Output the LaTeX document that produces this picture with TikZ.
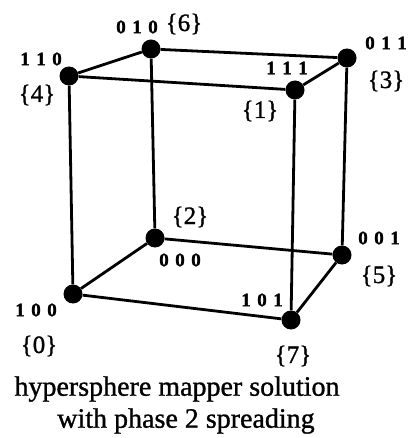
\documentclass[tikz,border=0pt]{standalone}
\usepackage{fontspec}
\setmainfont{Liberation Serif}
\newfontfamily\heavyserif[FakeBold=1.1]{Liberation Serif}
\newfontfamily\heavybits[FakeBold=1.5]{Liberation Serif Bold}
\tikzset{
  vertexdot/.style={circle,fill=black,draw=none,inner sep=0pt,minimum size=19pt},
  edgeline/.style={draw=black,line width=2.8pt},
  bits/.style={font=\fontsize{19}{19}\heavybits,inner sep=0pt},
  idx/.style={font=\fontsize{25}{25}\heavyserif,inner sep=0pt},
  captext/.style={font=\fontsize{28}{28}\heavyserif,inner sep=0pt}
}
\newcommand{\spd}[3]{#1\hspace{6.5pt}#2\hspace{6.5pt}#3}
\begin{document}
\begin{tikzpicture}[x=1pt,y=-1pt]
\useasboundingbox (0,0) rectangle (411,438);
\node[vertexdot] (v110) at (69,76) {};
\node[vertexdot] (v010) at (151,49) {};
\node[vertexdot] (v011) at (347,58) {};
\node[vertexdot] (v111) at (295,90) {};
\node[vertexdot] (v000) at (155,238) {};
\node[vertexdot] (v001) at (342,255) {};
\node[vertexdot] (v100) at (73,294) {};
\node[vertexdot] (v101) at (291,320) {};
\draw[edgeline] (v110) -- (v010);
\draw[edgeline] (v010) -- (v011);
\draw[edgeline] (v110) -- (v111);
\draw[edgeline] (v111) -- (v011);
\draw[edgeline] (v110) -- (v100);
\draw[edgeline] (v010) -- (v000);
\draw[edgeline] (v111) -- (v101);
\draw[edgeline] (v011) -- (v001);
\draw[edgeline] (v100) -- (v000);
\draw[edgeline] (v000) -- (v001);
\draw[edgeline] (v100) -- (v101);
\draw[edgeline] (v101) -- (v001);
\node[bits] (t010) at (137,27) {\spd010};
\node[idx] (i6) at (184,24) {\{6\}};
\node[bits] (t110) at (41,59) {\spd110};
\node[idx] (i4) at (37,95) {\{4\}};
\node[bits] (t111) at (287,68) {\spd111};
\node[idx] (i1) at (260,111) {\{1\}};
\node[bits] (t011) at (386,43) {\spd011};
\node[idx] (i3) at (386,81) {\{3\}};
\node[idx] (i2) at (190,217) {\{2\}};
\node[bits] (t000) at (180,260) {\spd000};
\node[bits] (t001) at (379,238) {\spd001};
\node[idx] (i5) at (379,276) {\{5\}};
\node[bits] (t100) at (36,310) {\spd100};
\node[idx] (i0) at (39,346) {\{0\}};
\node[bits] (t101) at (262,300) {\spd101};
\node[idx] (i7) at (293,356) {\{7\}};
\node[captext] (c1) at (177,389) {hypersphere mapper solution};
\node[captext] (c2) at (186,421) {with phase 2 spreading};
\end{tikzpicture}
\end{document}
